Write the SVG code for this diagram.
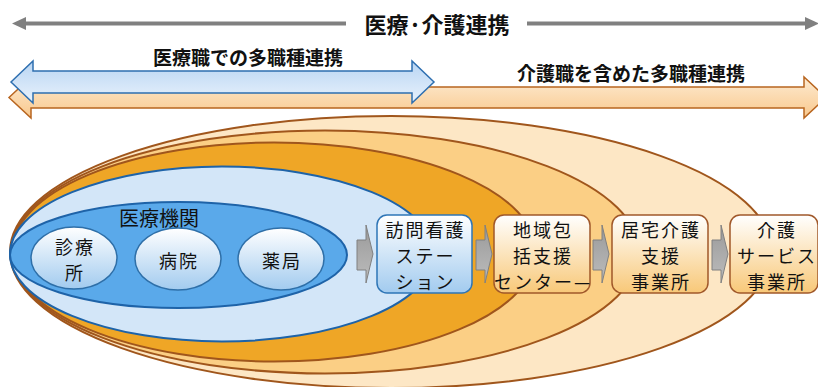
<svg xmlns="http://www.w3.org/2000/svg" width="818" height="387" viewBox="0 0 818 387">
<style>
text{font-family:"Noto Sans CJK JP","Noto Sans",sans-serif;fill:#111;text-anchor:middle;dominant-baseline:central}
.b{font-weight:bold}
.t{font-size:20px}
.s{font-size:18px;letter-spacing:2px}
.box{stroke-width:1.5}
.chev{fill:url(#gGray);stroke:#808080;stroke-width:1}
.el{stroke:#a0561c;stroke-width:2}
</style>
<defs>
<linearGradient id="gBlueArrow" x1="0" y1="0" x2="0" y2="1"><stop offset="0" stop-color="#b8d5f3"/><stop offset="1" stop-color="#e9f2fc"/></linearGradient>
<linearGradient id="gOrArrow" x1="0" y1="0" x2="0" y2="1"><stop offset="0" stop-color="#fdebd2"/><stop offset="1" stop-color="#f9c88c"/></linearGradient>
<linearGradient id="gBlueBox" x1="0" y1="0" x2="0" y2="1"><stop offset="0" stop-color="#ffffff"/><stop offset="1" stop-color="#a2cbef"/></linearGradient>
<linearGradient id="gOrBox" x1="0" y1="0" x2="0" y2="1"><stop offset="0" stop-color="#ffffff"/><stop offset="1" stop-color="#f8c878"/></linearGradient>
<linearGradient id="gGray" x1="0" y1="0" x2="0" y2="1"><stop offset="0" stop-color="#999999"/><stop offset="1" stop-color="#bdbdbd"/></linearGradient>
</defs>

<g id="top-arrow">
<line x1="26" y1="23.5" x2="346" y2="23.5" stroke="#808080" stroke-width="4"/>
<path d="M12,23.5 L26,17 L26,30 Z" fill="#808080"/>
<line x1="527" y1="23.5" x2="805" y2="23.5" stroke="#808080" stroke-width="4"/>
<path d="M819,23.5 L805,17 L805,30 Z" fill="#808080"/>
<text class="b" x="437" y="23" style="font-size:22px">医療·介護連携</text>
</g>

<g id="orange-band">
<path d="M9,97.5 L31,77 L31,87 L804,87 L804,77 L826,97.5 L804,118 L804,108 L31,108 L31,118 Z" fill="url(#gOrArrow)" stroke="#b8651f" stroke-width="1.5"/>
<text class="b" x="631" y="72" style="font-size:19px">介護職を含めた多職種連携</text>
</g>

<g id="blue-band">
<path d="M11,82 L33,61 L33,71 L412,71 L412,61 L434,82 L412,103 L412,93 L33,93 L33,103 Z" fill="url(#gBlueArrow)" stroke="#2e6fb0" stroke-width="1.5"/>
<text class="b" x="248" y="56" style="font-size:19px">医療職での多職種連携</text>
</g>

<g id="circles">
<ellipse id="e1" class="el" cx="391" cy="252" rx="381" ry="136" fill="#fde7c5"/>
<ellipse id="e2" class="el" cx="325" cy="252" rx="314" ry="121.5" fill="#fbcf85"/>
<ellipse id="e3" class="el" cx="274" cy="252" rx="262" ry="109.5" fill="#efa626"/>
<ellipse id="e4" cx="222" cy="254" rx="212" ry="87.5" fill="#d3e6f8" stroke="#1e63a8" stroke-width="2"/>
<ellipse id="e5" cx="178.5" cy="255" rx="168.5" ry="53" fill="#5aa9ea" stroke="#1e63a8" stroke-width="2"/>
<text class="t" x="159" y="217">医療機関</text>
</g>

<g id="clinic">
<ellipse cx="74" cy="258" rx="43" ry="31" fill="url(#gBlueBox)" stroke="#2e6fa8" stroke-width="1.5"/>
<text class="s" x="75" y="246">診療</text>
<text class="s" x="75" y="272.2">所</text>
</g>
<g id="hospital">
<ellipse cx="178" cy="259" rx="43" ry="31" fill="url(#gBlueBox)" stroke="#2e6fa8" stroke-width="1.5"/>
<text class="s" x="179" y="260">病院</text>
</g>
<g id="pharmacy">
<ellipse cx="281" cy="259" rx="43" ry="31" fill="url(#gBlueBox)" stroke="#2e6fa8" stroke-width="1.5"/>
<text class="s" x="282" y="260">薬局</text>
</g>

<g id="connectors">
<path class="chev" d="M357,240 H366 V225 L373,254 L366,283 V270 H357 Z"/>
<path class="chev" d="M476,240 H485 V225 L492,254 L485,283 V270 H476 Z"/>
<path class="chev" d="M593,240 H602 V225 L609,254 L602,283 V270 H593 Z"/>
<path class="chev" d="M712,240 H721 V225 L728,254 L721,283 V270 H712 Z"/>
</g>

<g id="nursing">
<rect class="box" x="377" y="215" width="95" height="78" rx="10" fill="url(#gBlueBox)" stroke="#2e75b6"/>
<text class="s" x="425.5" y="228.8">訪問看護</text>
<text class="s" x="425.5" y="255">ステー</text>
<text class="s" x="425.5" y="281.2">ション</text>
</g>
<g id="center">
<rect class="box" x="494" y="215" width="96" height="78" rx="10" fill="url(#gOrBox)" stroke="#a0582a"/>
<text class="s" x="543" y="228.8">地域包</text>
<text class="s" x="543" y="255">括支援</text>
<text class="s" x="543" y="281.2">センター—</text>
</g>
<g id="care-plan">
<rect class="box" x="612" y="215" width="96" height="78" rx="10" fill="url(#gOrBox)" stroke="#a0582a"/>
<text class="s" x="661" y="228.8">居宅介護</text>
<text class="s" x="661" y="255">支援</text>
<text class="s" x="661" y="281.2">事業所</text>
</g>
<g id="care-service">
<rect class="box" x="730" y="215" width="88" height="78" rx="10" fill="url(#gOrBox)" stroke="#a0582a"/>
<text class="s" x="777" y="228.8">介護</text>
<text class="s" x="777" y="255">サービス</text>
<text class="s" x="777" y="281.2">事業所</text>
</g>
</svg>
